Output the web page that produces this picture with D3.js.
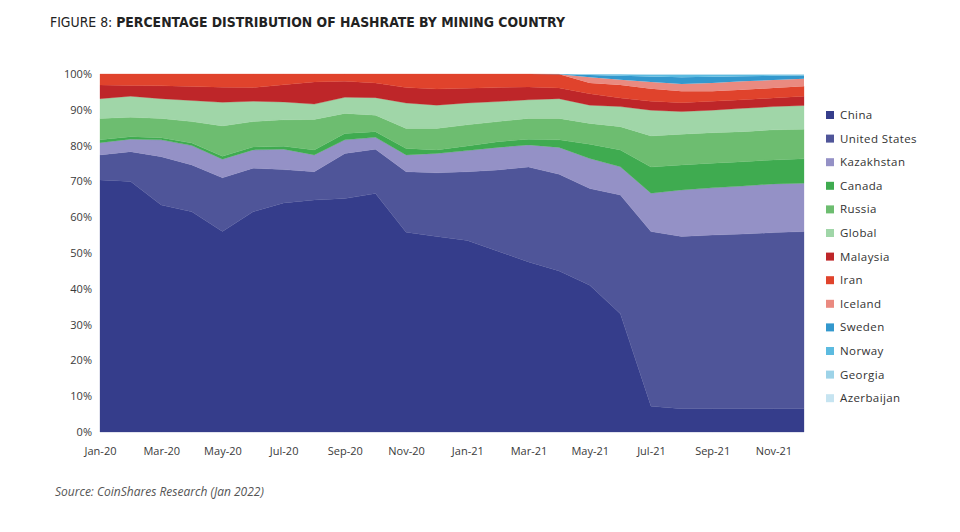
<!DOCTYPE html>
<html><head><meta charset="utf-8">
<script src="https://cdn.jsdelivr.net/npm/d3@7"></script>
<style>body{margin:0;background:#fff;} svg{display:block;}</style>
</head><body>
<svg id="chart" width="960" height="532"></svg>
<script>
const months = ["Jan-20","Feb-20","Mar-20","Apr-20","May-20","Jun-20","Jul-20","Aug-20","Sep-20","Oct-20","Nov-20","Dec-20",
                "Jan-21","Feb-21","Mar-21","Apr-21","May-21","Jun-21","Jul-21","Aug-21","Sep-21","Oct-21","Nov-21","Dec-21"];
const tickLabels = ["Jan-20","Mar-20","May-20","Jul-20","Sep-20","Nov-20","Jan-21","Mar-21","May-21","Jul-21","Sep-21","Nov-21"];
const yTicks = [0,10,20,30,40,50,60,70,80,90,100];
const countries = ["China","United States","Kazakhstan","Canada","Russia","Global","Malaysia","Iran","Iceland","Sweden","Norway","Georgia","Azerbaijan"];
const colors = ["#353d8b","#4f5599","#9491c6","#3fab50","#6dbd70","#a0d6a8","#be2629","#e0432c","#ea8a80","#3398cd","#5cbbe0","#9dd3e8","#c6e4f1"];

const china      = [70.4,70.0,63.4,61.5,56.0,61.5,64.0,64.8,65.2,66.6,55.8,54.6,53.5,50.5,47.5,45.0,41.0,33.0,7.2,6.5,6.5,6.5,6.5,6.5];
const us         = [7.0,8.3,13.5,13.1,15.0,12.2,9.3,7.9,12.6,12.4,16.9,17.8,19.2,22.7,26.5,27.0,27.0,33.2,48.8,48.1,48.5,48.8,49.2,49.5];
const kazakhstan = [3.4,3.5,4.7,5.4,5.2,5.1,5.7,4.7,3.8,3.3,4.7,5.4,5.9,6.3,6.2,7.5,8.4,7.9,10.7,13.0,13.2,13.4,13.6,13.5];
const canada     = [0.8,0.7,0.6,0.7,0.8,0.8,0.8,1.4,1.8,1.6,1.8,1.0,1.3,1.6,1.6,2.1,4.0,4.7,7.3,7.0,6.9,6.8,6.7,6.8];
const russia     = [6.0,5.4,5.4,6.0,8.5,7.1,7.4,8.5,5.6,4.6,5.6,6.0,5.9,5.6,5.8,6.0,5.8,6.5,8.7,8.6,8.5,8.4,8.4,8.3];
const global     = [5.5,5.9,5.5,5.9,6.6,5.7,5.0,4.3,4.5,4.9,7.1,6.5,6.1,5.6,5.2,5.5,5.1,5.6,7.2,6.3,6.3,6.5,6.5,6.6];
const malaysia   = [3.8,3.0,3.6,3.9,4.2,3.8,4.8,6.2,4.5,4.1,4.3,4.5,4.1,3.9,3.6,3.0,3.2,2.4,2.5,2.5,2.5,2.4,2.4,2.6];
const iran       = [3.1,3.2,3.3,3.5,3.7,3.8,3.0,2.2,2.0,2.5,3.8,4.2,4.0,3.8,3.6,3.8,3.0,3.6,3.5,3.2,2.8,2.8,2.8,2.8];
const iceland    = [0,0,0,0,0,0,0,0,0,0,0,0,0,0,0,0,1.6,1.5,1.9,2.0,2.3,2.4,2.2,2.1];
const sweden     = [0,0,0,0,0,0,0,0,0,0,0,0,0,0,0,0.1,0.6,1.1,1.5,1.9,1.7,1.4,1.2,0.9];
const norway     = [0,0,0,0,0,0,0,0,0,0,0,0,0,0,0,0,0.2,0.4,0.5,0.7,0.6,0.4,0.3,0.2];
const georgia    = [0,0,0,0,0,0,0,0,0,0,0,0,0,0,0,0,0.05,0.05,0.1,0.1,0.1,0.1,0.1,0.1];
const azerbaijan = [0,0,0,0,0,0,0,0,0,0,0,0,0,0,0,0,0.05,0.05,0.1,0.1,0.1,0.1,0.1,0.1];

const series = [china,us,kazakhstan,canada,russia,global,malaysia,iran,iceland,sweden,norway,georgia,azerbaijan];
const rows = months.map((m,i) => {
  const r = {month:m};
  countries.forEach((c,k) => r[c] = series[k][i]);
  return r;
});

const svg = d3.select("#chart");
const mLeft = 100, mRight = 804, mTop = 74, mBottom = 432;
const x = d3.scalePoint().domain(months).range([mLeft,mRight]);
const y = d3.scaleLinear().domain([0,1]).range([mBottom,mTop]);
const color = d3.scaleOrdinal().domain(countries).range(colors);

const stacked = d3.stack().keys(countries).offset(d3.stackOffsetExpand)(rows);
const area = d3.area()
  .x(d => x(d.data.month))
  .y0(d => y(d[0]))
  .y1(d => y(d[1]))
  .curve(d3.curveLinear);

svg.append("g").selectAll("path").data(stacked).join("path")
  .attr("d", area)
  .attr("fill", d => color(d.key))
  .attr("stroke", d => d.some(p => p[1] - p[0] === 0) ? "none" : color(d.key))
  .attr("stroke-width", 0.3);

const fontAxis = "'Open Sans', 'DejaVu Sans', sans-serif";

const yAxis = svg.append("g").attr("transform", `translate(${mLeft},0)`)
  .call(d3.axisLeft(y).tickValues(yTicks.map(v => v/100)).tickFormat(d3.format(".0%")).tickSize(0).tickPadding(8));
yAxis.select(".domain").remove();
yAxis.selectAll("text").attr("font-family", fontAxis).attr("font-size", 11).attr("fill", "#3a3a3a");

const xAxis = svg.append("g").attr("transform", `translate(0,${mBottom})`)
  .call(d3.axisBottom(x).tickValues(tickLabels).tickSize(0).tickPadding(15));
xAxis.select(".domain").remove();
xAxis.selectAll("text").attr("font-family", fontAxis).attr("font-size", 11).attr("fill", "#3a3a3a");

// Legend
const legend = svg.append("g").attr("transform", "translate(826,115)");
const li = legend.selectAll("g").data(countries).join("g")
  .attr("transform", (d,i) => `translate(0,${i*23.6})`);
li.append("rect").attr("x",0).attr("y",-4).attr("width",8).attr("height",8).attr("fill", d => color(d));
li.append("text").attr("x",14).attr("y",0).attr("dy","0.35em")
  .attr("font-family", fontAxis).attr("font-size", 11.5).attr("fill","#333")
  .attr("letter-spacing", 0.4)
  .text(d => d);

// Title
const title = svg.append("text").attr("x",50).attr("y",27)
  .attr("font-family","'DejaVu Sans Condensed','Liberation Sans Narrow','Roboto',sans-serif")
  .attr("font-size",14.5).attr("fill","#222")
  .attr("textLength",515).attr("lengthAdjust","spacingAndGlyphs");
title.append("tspan").attr("font-weight","normal").text("FIGURE 8: ");
title.append("tspan").attr("font-weight","bold").text("PERCENTAGE DISTRIBUTION OF HASHRATE BY MINING COUNTRY");

// Source
svg.append("text").attr("x",55).attr("y",496)
  .attr("font-family",fontAxis).attr("font-size",12).attr("font-style","italic").attr("fill","#555")
  .text("Source: CoinShares Research (Jan 2022)");
</script>
</body></html>
